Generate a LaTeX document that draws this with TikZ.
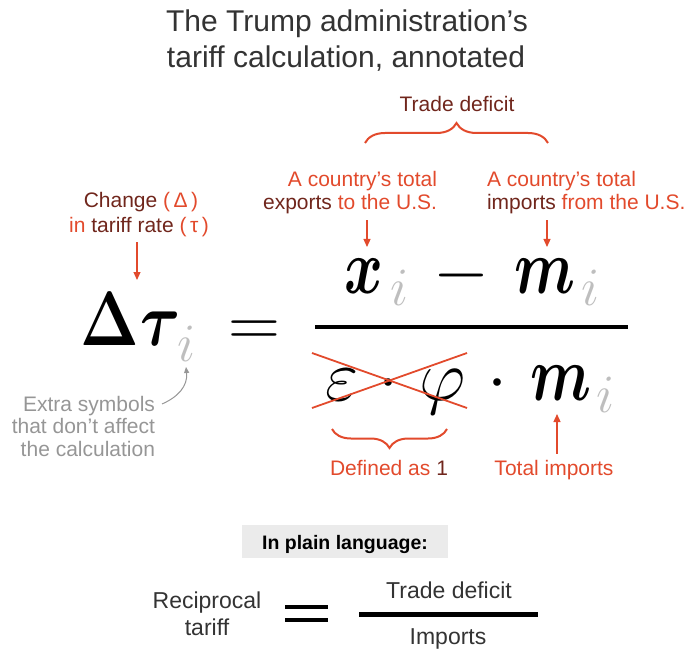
\RequirePackage{fix-cm}
\documentclass[tikz,border=0pt]{standalone}
\usepackage{amsmath}
\usepackage[no-math]{fontspec}
\setmainfont{Liberation Sans}
\usetikzlibrary{arrows.meta,decorations.pathreplacing,calc}
\definecolor{orng}{RGB}{226,74,44}
\definecolor{dred}{RGB}{112,38,28}
\definecolor{ttl}{RGB}{51,51,51}
\definecolor{xgray}{RGB}{150,150,150}
\definecolor{sgray}{RGB}{190,190,190}
\definecolor{boxg}{RGB}{235,235,235}
\newcommand{\bsym}[1]{\scalebox{0.82}[1.08]{$\boldsymbol{#1}$}}
\begin{document}
\begin{tikzpicture}[x=1pt,y=-1pt,
  every node/.style={inner sep=0pt,outer sep=0pt},
  ttlfont/.style={font=\fontsize{30}{36}\selectfont,text=ttl,anchor=base},
  ann/.style={font=\fontsize{21}{25}\selectfont,anchor=base},
  plainfont/.style={font=\fontsize{23}{27}\selectfont,text=ttl,anchor=base},
  mbig/.style={font=\fontsize{72}{80}\selectfont,anchor=base},
  msub/.style={font=\fontsize{54}{60}\selectfont,text=sgray,anchor=base},
  arr/.style={draw=orng,line width=1.2pt,-{Triangle[length=8pt,width=7pt]}},
  bracestyle/.style={draw=orng,line width=2pt,decorate,decoration={brace,amplitude=20pt}},
  cross/.style={draw=orng,line width=1.8pt},
  barline/.style={draw=black,line width=4.5pt},
]
\useasboundingbox (0,0) rectangle (690,652);

% title
\node[ttlfont] (t1) at (347,32) {The Trump administration’s};
\node[ttlfont] (t2) at (346,68) {tariff calculation, annotated};

% trade deficit brace
\node[ann,text=dred] (td) at (457,112) {Trade deficit};
\draw[bracestyle] (365,143) -- (548,143);

% exports / imports labels
\node[ann,anchor=base east,text=orng] (exp1) at (437,187) {A country’s total};
\node[ann,anchor=base east] (exp2) at (437,210) {\textcolor{dred}{exports} \textcolor{orng}{to the U.S.}};
\node[ann,anchor=base west,text=orng] (imp1) at (487,187) {A country’s total};
\node[ann,anchor=base west] (imp2) at (487,210) {\textcolor{dred}{imports} \textcolor{orng}{from the U.S.}};

% change label
\node[ann] (chg1) at (141,208) {\textcolor{dred}{Change} \textcolor{orng}{(\,Δ\,)}};
\node[ann] (chg2) at (139,233) {\textcolor{orng}{in} \textcolor{dred}{tariff rate} \textcolor{orng}{(\,τ\,)}};

% left side
\node[mbig] (dlt) at (110,345) {\scalebox{0.87}[1.07]{$\boldsymbol{\Delta}$}};
\node[mbig] (tau) at (161,345) {\scalebox{0.85}[1.05]{$\boldsymbol{\tau}$}};
\node[msub] (ti) at (187,361) {$i$};
\node[mbig] (eq) at (254,346) {$=$};

% fraction bar
\coordinate (fb1) at (315,327);
\coordinate (fb2) at (628,327);
\draw[barline] (fb1) -- (fb2);

% numerator
\node[mbig] (nx) at (364,293) {\bsym{x}};
\node[msub] (nxi) at (400,305) {$i$};
\node[mbig] (nmin) at (461,293) {$-$};
\node[mbig] (nm) at (545,293) {\bsym{m}};
\node[msub] (nmi) at (591,305) {$i$};

% denominator
\node[mbig] (de) at (342,400) {$\varepsilon$};
\node[mbig] (dd1) at (388,400) {$\cdot$};
\node[mbig] (dphi) at (443,400) {$\varphi$};
\node[mbig] (dd2) at (497,400) {$\cdot$};
\node[mbig] (dm) at (561,400) {\bsym{m}};
\node[msub] (dmi) at (606,412) {$i$};

% cross
\coordinate (c1) at (312,353);
\coordinate (c2) at (467,408);
\coordinate (c3) at (312,408);
\coordinate (c4) at (467,353);
\draw[cross] (c1) -- (c2);
\draw[cross] (c3) -- (c4);

% lower brace and labels
\draw[bracestyle,decoration={brace,amplitude=19pt}] (447,429) -- (332,429);
\node[ann] (def) at (389,475) {\textcolor{orng}{Defined as} \textcolor{dred}{1}};
\node[ann,text=orng] (totimp) at (554,475) {Total imports};

% extra symbols
\node[ann,anchor=base east,text=xgray] (ex1) at (155,411) {Extra symbols};
\node[ann,anchor=base east,text=xgray] (ex2) at (155,433) {that don’t affect};
\node[ann,anchor=base east,text=xgray] (ex3) at (155,456) {the calculation};

% arrows
\coordinate (tD) at (137,280);
\draw[arr] ($(chg2.south -| tD)+(0,5)$) -- (tD);
\coordinate (tX) at (367,247);
\draw[arr] ($(exp2.south -| tX)+(0,6)$) -- (tX);
\coordinate (tM) at (547,247);
\draw[arr] ($(imp2.south -| tM)+(0,6)$) -- (tM);
\coordinate (tB) at (557,414);
\draw[arr] ($(totimp.north -| tB)+(0,-6)$) -- (tB);
\coordinate (gs) at (162,404);
\coordinate (gt) at (186,367);
\draw[draw=xgray,line width=1pt,-{Triangle[length=6pt,width=5pt]}] (gs) .. controls (178,397) and (188,386) .. (gt);

% plain language
\node[fill=boxg,minimum width=206pt,minimum height=33pt] (plainbox) at (345,541.5) {};
\node[anchor=base,font=\bfseries\fontsize{19.5}{23}\selectfont] (plain) at (345,549) {In plain language:};
\node[plainfont] (rec1) at (207,608) {Reciprocal};
\node[plainfont] (rec2) at (207,635) {tariff};
\coordinate (e1) at (285,607);
\coordinate (e2) at (328,607);
\coordinate (e3) at (285,620);
\coordinate (e4) at (328,620);
\draw[line width=3.5pt] (e1) -- (e2);
\draw[line width=3.5pt] (e3) -- (e4);
\coordinate (b1) at (359,614);
\coordinate (b2) at (538,614);
\draw[line width=5pt] (b1) -- (b2);
\node[plainfont] (ptd) at (449,598) {Trade deficit};
\node[plainfont] (pim) at (448,644) {Imports};
\end{tikzpicture}
\end{document}
